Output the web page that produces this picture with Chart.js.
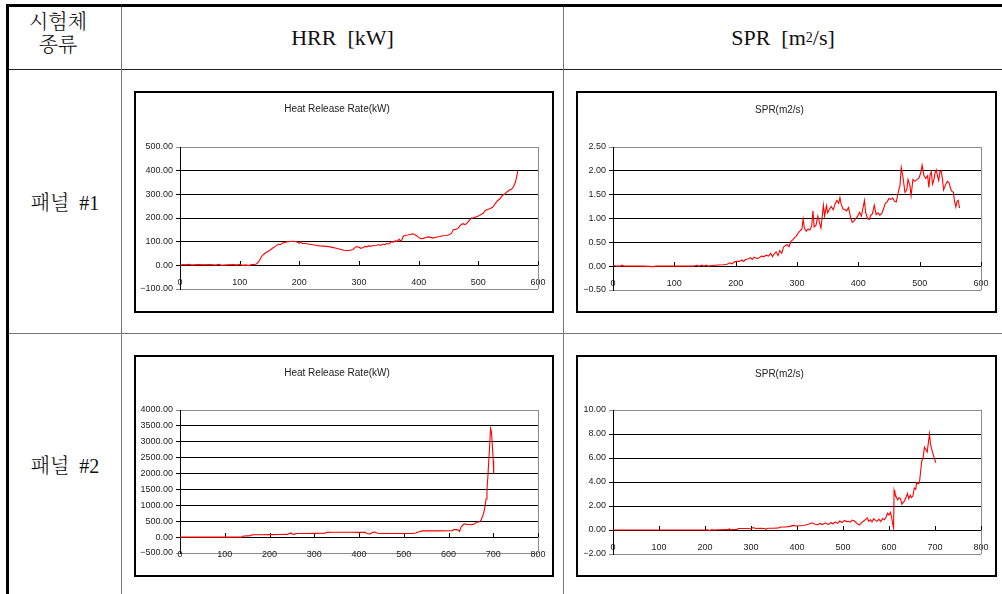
<!DOCTYPE html>
<html lang="ko">
<head>
<meta charset="utf-8">
<title>HRR / SPR</title>
<script src="https://cdn.jsdelivr.net/npm/chart.js@4.4.1/dist/chart.umd.min.js"></script>
<style>
    html, body { margin: 0; padding: 0; background: #fff; }
    body { width: 1002px; height: 594px; position: relative; overflow: hidden; }
    .rule { position: absolute; }
    .cell {
        position: absolute;
        display: flex;
        align-items: center;
        justify-content: center;
        text-align: center;
        color: #111;
        font-weight: 300;
        font-family: 'Liberation Serif', 'Noto Serif CJK KR', 'Noto Sans CJK KR', serif;
    }
    .cell sup { font-size: 14px; line-height: 0; vertical-align: 9px; }
    .box { position: absolute; box-sizing: border-box; border: 2px solid #000; background: #fff; }
    .box canvas { display: block; }
</style>
</head>
<body>

<!-- table rules -->
<div class="rule" style="left:6px;top:4px;width:996px;height:3px;background:#000;"></div>
<div class="rule" style="left:6px;top:4px;width:3px;height:590px;background:#000;"></div>
<div class="rule" style="left:9px;top:69px;width:993px;height:1px;background:#222;"></div>
<div class="rule" style="left:121px;top:7px;width:1px;height:587px;background:#777;"></div>
<div class="rule" style="left:563px;top:7px;width:1px;height:587px;background:#777;"></div>
<div class="rule" style="left:9px;top:333px;width:993px;height:1px;background:#777;"></div>

<!-- header cells -->
<div class="cell" style="left:9px;top:11px;width:98px;height:48px;font-size:20px;line-height:23px;display:block;">시험체<br>종류</div>
<div class="cell" style="left:122px;top:7px;width:441px;height:62px;font-size:22px;">HRR&nbsp;&nbsp;[kW]</div>
<div class="cell" style="left:564px;top:7px;width:438px;height:62px;font-size:22px;">SPR&nbsp;&nbsp;[m<sup>2</sup>/s]</div>
<div class="cell" style="left:9px;top:70px;width:112px;height:263px;font-size:20px;">패널&nbsp;&nbsp;#1</div>
<div class="cell" style="left:9px;top:334px;width:112px;height:260px;font-size:20px;">패널&nbsp;&nbsp;#2</div>

<!-- chart boxes -->
<div class="box" style="left:134px;top:91px;width:420px;height:222px;"><canvas id="hrr1" width="416" height="218"></canvas></div>
<div class="box" style="left:576px;top:91px;width:421px;height:222px;"><canvas id="spr1" width="417" height="218"></canvas></div>
<div class="box" style="left:134px;top:355px;width:420px;height:222px;"><canvas id="hrr2" width="416" height="218"></canvas></div>
<div class="box" style="left:576px;top:355px;width:421px;height:222px;"><canvas id="spr2" width="417" height="218"></canvas></div>

<script>
// Panel #1 - heat release rate (kW) against time (s)
const p1HrrTime = [0, 5, 10, 15, 20, 30, 40, 50, 60, 65, 70, 80, 90, 95, 100, 105, 110, 115, 120, 125, 128, 131, 134, 137, 140, 145, 150, 155, 160, 165, 168, 172, 176, 180, 185, 190, 195, 198, 200, 202, 205, 210, 215, 220, 225, 230, 235, 240, 245, 250, 255, 260, 265, 270, 275, 280, 285, 290, 293, 296, 300, 303, 306, 310, 313, 316, 320, 325, 330, 333, 336, 340, 343, 346, 350, 355, 358, 361, 364, 367, 370, 372, 374, 378, 382, 386, 390, 393, 396, 400, 404, 408, 412, 416, 420, 424, 428, 432, 436, 440, 445, 450, 455, 458, 462, 466, 470, 474, 478, 481, 485, 488, 492, 496, 500, 504, 508, 512, 516, 520, 524, 528, 532, 536, 540, 544, 548, 552, 556, 559, 562, 564, 566];
const p1HrrValue = [0, 3, 2, 4, 1, 3, 2, 3, 1, 4, 0, 2, 3, 1, 4, 0, 2, -1, 3, 4, 6, 12, 25, 38, 46, 55, 63, 72, 80, 90, 87, 94, 97, 100, 101, 102, 100, 97, 93, 99, 92, 92, 90, 88, 86, 84, 82, 81, 80, 79, 76, 73, 70, 67, 64, 63, 64, 67, 75, 79, 76, 72, 74, 80, 78, 82, 81, 84, 85, 88, 84, 90, 87, 92, 90, 100, 98, 104, 101, 110, 103, 108, 122, 127, 128, 130, 133, 130, 126, 118, 113, 114, 118, 120, 118, 115, 118, 121, 122, 125, 126, 128, 135, 150, 152, 156, 170, 176, 172, 178, 190, 200, 201, 204, 208, 214, 220, 233, 236, 240, 245, 260, 273, 280, 295, 300, 310, 318, 322, 333, 350, 372, 398];

// Panel #1 - smoke production rate (m2/s)
const p1SprTime = [0, 3, 6, 12, 15, 18, 30, 50, 65, 70, 100, 130, 137, 140, 145, 148, 152, 155, 165, 180, 186, 190, 194, 198, 202, 206, 210, 213, 216, 220, 224, 227, 230, 234, 238, 242, 246, 250, 254, 257, 260, 263, 266, 269, 272, 275, 278, 281, 284, 287, 290, 293, 296, 299, 302, 305, 308, 310, 312, 315, 318, 321, 324, 326, 328, 331, 334, 337, 339, 341, 343, 345, 348, 350, 353, 356, 359, 362, 365, 368, 370, 372, 375, 378, 381, 384, 387, 390, 393, 396, 399, 402, 405, 408, 410, 412, 415, 418, 420, 423, 426, 429, 432, 435, 438, 441, 444, 447, 450, 453, 456, 459, 462, 465, 468, 470, 473, 476, 479, 481, 484, 486, 489, 492, 496, 499, 502, 504, 507, 510, 513, 515, 517, 519, 521, 523, 525, 527, 529, 531, 533, 535, 537, 539, 542, 545, 548, 550, 552, 555, 557, 559, 561, 563, 565];
const p1SprValue = [0.02, 0.01, 0, 0, 0.02, 0, 0, 0, -0.01, 0, 0, 0, 0.02, 0, 0.02, 0, 0.02, 0, 0.02, 0.03, 0.04, 0.07, 0.05, 0.09, 0.1, 0.1, 0.13, 0.1, 0.14, 0.15, 0.18, 0.14, 0.19, 0.16, 0.17, 0.21, 0.2, 0.23, 0.21, 0.27, 0.2, 0.26, 0.3, 0.22, 0.33, 0.27, 0.4, 0.43, 0.45, 0.41, 0.52, 0.55, 0.6, 0.63, 0.7, 0.74, 0.78, 0.99, 0.8, 0.73, 0.78, 0.76, 0.85, 1.16, 0.82, 0.86, 1.05, 0.9, 0.8, 1.02, 1.28, 1.05, 1.27, 1.12, 1.2, 1.25, 1.18, 1.3, 1.38, 1.32, 1.44, 1.3, 1.2, 1.19, 1.16, 1.23, 1.05, 0.92, 0.95, 1.0, 1.05, 1.13, 1.05, 1.25, 1.38, 1.12, 1.0, 0.98, 1.06, 1.1, 1.28, 1.08, 1.12, 1.07, 1.1, 1.2, 1.32, 1.35, 1.42, 1.4, 1.43, 1.36, 1.35, 1.55, 1.7, 2.07, 1.85, 1.55, 1.6, 1.82, 1.7, 1.48, 1.82, 1.78, 1.82, 1.85, 1.97, 2.12, 1.9, 1.84, 1.9, 1.65, 1.92, 1.98, 1.72, 1.8, 1.95, 2.02, 1.9, 1.8, 1.98, 2.0, 1.85, 1.6, 1.7, 1.78, 1.75, 1.65, 1.58, 1.55, 1.35, 1.24, 1.36, 1.38, 1.22];

// Panel #2 - heat release rate (kW)
const p2HrrTime = [0, 20, 40, 60, 80, 100, 120, 138, 141, 145, 150, 158, 160, 170, 180, 200, 220, 240, 244, 248, 252, 255, 258, 262, 270, 280, 300, 320, 325, 328, 340, 360, 380, 400, 414, 418, 422, 426, 430, 436, 440, 445, 460, 480, 500, 520, 527, 532, 537, 540, 560, 580, 600, 608, 612, 618, 622, 625, 628, 632, 636, 640, 645, 650, 655, 659, 662, 666, 670, 673, 676, 679, 682, 684, 686, 688, 690, 692, 694, 696, 698, 700, 701];
const p2HrrValue = [0, 0, 0, 0, 0, 0, 0, 0, 30, 35, 40, 45, 70, 75, 75, 78, 80, 85, 110, 130, 90, 80, 110, 115, 112, 115, 118, 120, 125, 150, 155, 155, 152, 150, 148, 115, 100, 110, 150, 160, 130, 115, 115, 115, 112, 115, 130, 160, 175, 195, 195, 195, 198, 200, 240, 235, 220, 180, 320, 380, 420, 400, 395, 390, 400, 420, 470, 470, 490, 540, 650, 780, 1000, 1200, 1500, 1900, 2400, 2900, 3420, 3300, 2900, 2400, 2000];

// Panel #2 - smoke production rate (m2/s)
const p2SprTime = [0, 20, 50, 100, 150, 200, 205, 210, 215, 220, 230, 250, 253, 255, 270, 272, 290, 300, 305, 310, 320, 330, 333, 336, 350, 360, 365, 375, 385, 392, 398, 405, 415, 425, 432, 438, 445, 450, 455, 462, 468, 474, 478, 483, 488, 493, 498, 503, 508, 512, 516, 520, 525, 530, 535, 540, 545, 550, 553, 556, 560, 563, 567, 570, 574, 578, 582, 586, 590, 594, 597, 600, 603, 606, 609, 610, 611, 613, 616, 619, 622, 625, 628, 631, 634, 637, 640, 643, 646, 649, 652, 655, 658, 660, 663, 666, 668, 671, 674, 677, 680, 683, 686, 688, 690, 693, 696, 699, 702];
const p2SprValue = [0, 0, 0, 0, 0, 0, 0.02, -0.05, 0.03, 0, 0.02, 0.03, 0.1, 0.02, 0.05, 0.12, 0.12, 0.1, 0.2, 0.12, 0.15, 0.12, 0.05, 0.14, 0.15, 0.18, 0.25, 0.25, 0.3, 0.38, 0.33, 0.35, 0.38, 0.48, 0.6, 0.5, 0.42, 0.55, 0.45, 0.6, 0.45, 0.62, 0.5, 0.68, 0.55, 0.75, 0.62, 0.8, 0.7, 0.72, 0.65, 0.83, 0.75, 0.55, 0.42, 0.6, 0.75, 0.9, 1.0, 0.72, 0.85, 0.68, 0.95, 0.82, 0.72, 0.9, 0.7, 0.95, 0.85, 1.1, 1.4, 1.25, 1.47, 1.0, 0.3, 0.15, 3.3, 3.0, 2.75, 2.5, 2.7, 2.6, 2.15, 2.3, 2.45, 2.7, 3.05, 2.6, 2.9, 2.7, 2.85, 3.5, 3.4, 3.95, 3.85, 3.9, 4.6, 5.7, 6.0, 6.9, 6.7, 6.5, 7.4, 8.0, 7.2, 6.7, 6.3, 5.9, 5.6];

// axis ticks
const p1TimeTicks = [0, 100, 200, 300, 400, 500, 600];
const p2TimeTicks = [0, 100, 200, 300, 400, 500, 600, 700, 800];
const p1HrrTicks = [-100, 0, 100, 200, 300, 400, 500];
const p1SprTicks = [-0.5, 0, 0.5, 1.0, 1.5, 2.0, 2.5];
const p2HrrTicks = [-500, 0, 500, 1000, 1500, 2000, 2500, 3000, 3500, 4000];
const p2SprTicks = [-2, 0, 2, 4, 6, 8, 10];

Chart.defaults.font.family = "'Liberation Sans', Arial, sans-serif";
Chart.defaults.color = '#222';

// grey right edge of the plot area and small upward tick marks on the zero line
const plotEdge = {
    id: 'plotEdge',
    beforeDatasetsDraw(chart) {
        const { ctx, chartArea, scales } = chart;
        ctx.save();
        ctx.strokeStyle = '#8c8c8c';
        ctx.lineWidth = 1;
        ctx.beginPath();
        ctx.moveTo(Math.round(chartArea.right) + 0.5, chartArea.top);
        ctx.lineTo(Math.round(chartArea.right) + 0.5, chartArea.bottom);
        ctx.stroke();

        const y0 = Math.round(scales.y.getPixelForValue(0));
        ctx.strokeStyle = '#000';
        ctx.beginPath();
        scales.x.ticks.forEach(t => {
            const px = Math.round(scales.x.getPixelForValue(t.value)) + 0.5;
            ctx.moveTo(px, y0);
            ctx.lineTo(px, y0 - 4);
        });
        ctx.stroke();
        ctx.restore();
    }
};

function formatValue(v) {
    const s = Math.abs(v).toFixed(2);
    return v < 0 ? '\u2212' + s : s;
}

function drawPanelChart(canvasId, title, times, values, xTicks, yTicks, area) {
    const canvas = document.getElementById(canvasId);
    const yMin = yTicks[0];
    const yMax = yTicks[yTicks.length - 1];
    const titleLine = 12;
    const titleTop = area.titleY - titleLine / 2;

    return new Chart(canvas.getContext('2d'), {
        type: 'scatter',
        data: {
            datasets: [{
                data: times.map((t, i) => ({ x: t, y: values[i] })),
                showLine: true,
                borderColor: '#ff0000',
                borderWidth: 1.1,
                pointRadius: 0,
                tension: 0
            }]
        },
        options: {
            responsive: false,
            animation: false,
            events: [],
            layout: {
                padding: {
                    left: 0,
                    top: 0,
                    right: canvas.width - area.right,
                    bottom: canvas.height - area.bottom
                }
            },
            plugins: {
                legend: { display: false },
                tooltip: { enabled: false },
                title: {
                    display: true,
                    text: title,
                    color: '#222',
                    font: { size: 10, weight: 'normal', lineHeight: titleLine + 'px' },
                    padding: { top: titleTop, bottom: area.top - titleTop - titleLine }
                }
            },
            scales: {
                x: {
                    type: 'linear',
                    min: xTicks[0],
                    max: xTicks[xTicks.length - 1],
                    position: { y: 0 },
                    afterBuildTicks: scale => { scale.ticks = xTicks.map(v => ({ value: v })); },
                    // labels sit low under the zero line; keep them from shrinking the plot
                    afterFit: scale => { scale.paddingLeft = 0; scale.paddingRight = 0; },
                    grid: { display: false, drawTicks: false },
                    border: { display: true, color: '#000' },
                    ticks: {
                        padding: 12,
                        maxRotation: 0,
                        autoSkip: false,
                        font: { size: 9 },
                        color: '#222'
                    }
                },
                y: {
                    type: 'linear',
                    min: yMin,
                    max: yMax,
                    afterBuildTicks: scale => { scale.ticks = yTicks.map(v => ({ value: v })); },
                    afterFit: scale => { scale.width = area.left; },
                    grid: {
                        color: ctx => (ctx.tick && (ctx.tick.value === yMin || ctx.tick.value === yMax)) ? '#8c8c8c' : '#000',
                        lineWidth: 1,
                        tickLength: 4
                    },
                    border: { color: '#000', width: 1 },
                    ticks: {
                        padding: 3,
                        autoSkip: false,
                        font: { size: 9 },
                        color: '#222',
                        callback: v => formatValue(v)
                    }
                }
            }
        },
        plugins: [plotEdge]
    });
}

document.addEventListener('DOMContentLoaded', () => {
    drawPanelChart('hrr1', 'Heat Release Rate(kW)', p1HrrTime, p1HrrValue, p1TimeTicks, p1HrrTicks,
        { left: 44, top: 54, right: 402, bottom: 196, titleY: 16 });
    drawPanelChart('spr1', 'SPR(m2/s)', p1SprTime, p1SprValue, p1TimeTicks, p1SprTicks,
        { left: 35, top: 54, right: 403, bottom: 197, titleY: 17 });
    drawPanelChart('hrr2', 'Heat Release Rate(kW)', p2HrrTime, p2HrrValue, p2TimeTicks, p2HrrTicks,
        { left: 44, top: 53, right: 402, bottom: 196, titleY: 16 });
    drawPanelChart('spr2', 'SPR(m2/s)', p2SprTime, p2SprValue, p2TimeTicks, p2SprTicks,
        { left: 35, top: 53, right: 403, bottom: 197, titleY: 17 });
});
</script>
</body>
</html>
